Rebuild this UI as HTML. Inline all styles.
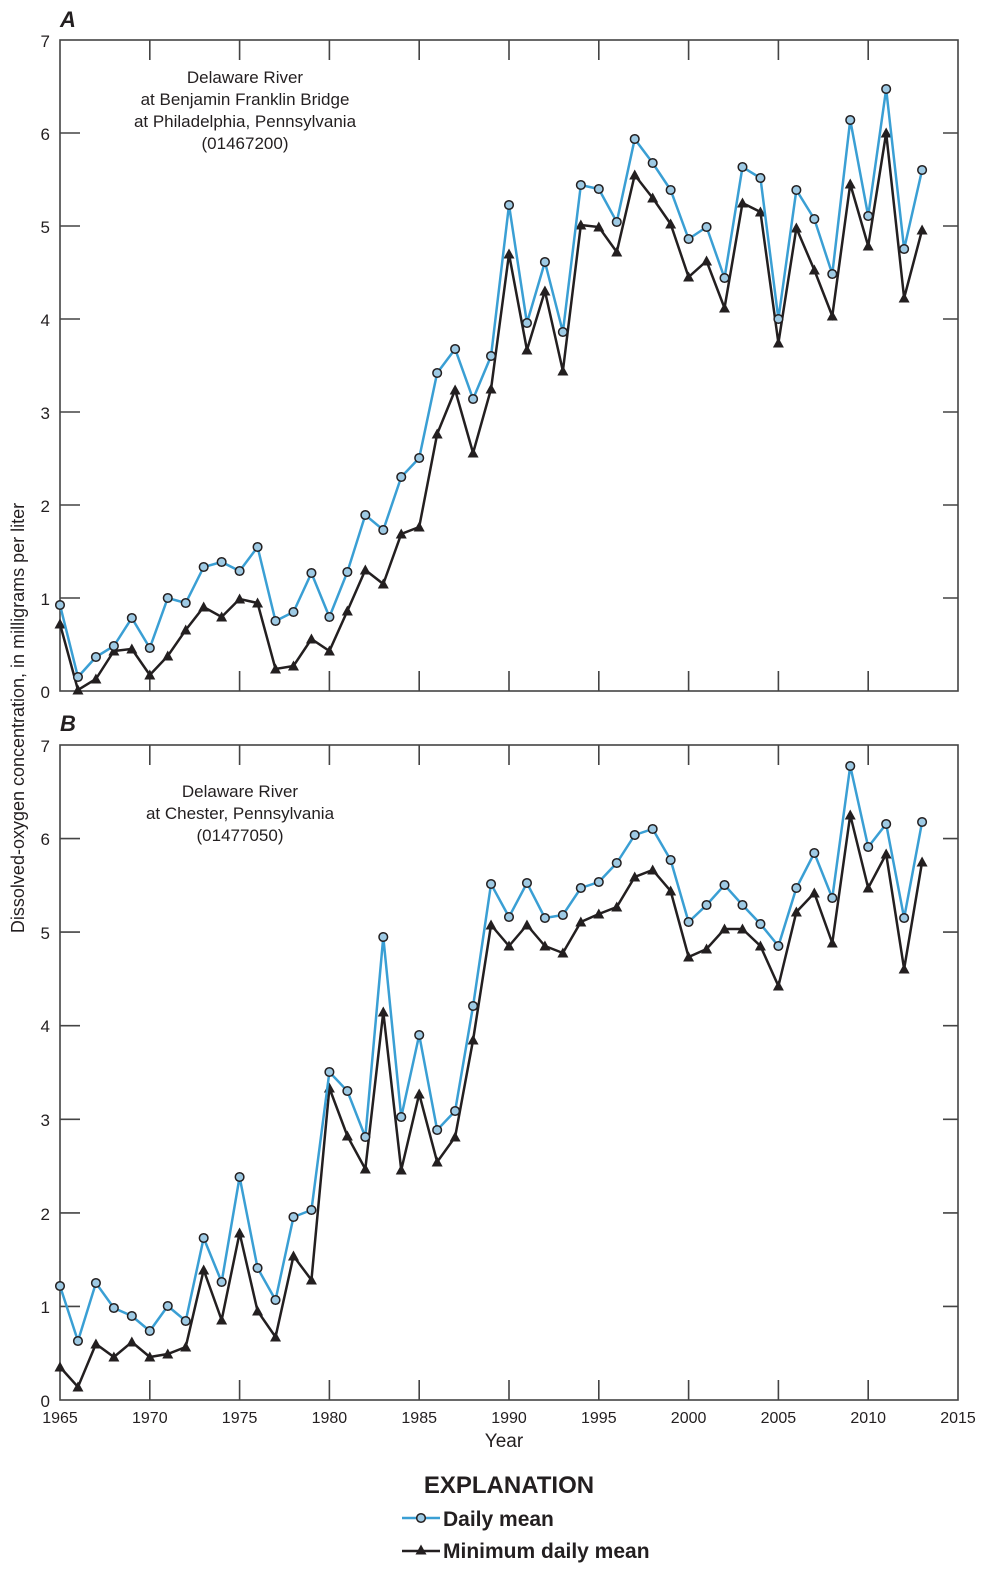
<!DOCTYPE html>
<html><head><meta charset="utf-8"><style>
body{margin:0;background:#fff}
svg{display:block}
text{font-family:"Liberation Sans Narrow","Liberation Sans",sans-serif;fill:#231f20}
</style></head><body>
<svg width="1008" height="1596" viewBox="0 0 1008 1596" xmlns="http://www.w3.org/2000/svg">
<defs>
<marker id="c" markerWidth="12" markerHeight="12" refX="6" refY="6" markerUnits="userSpaceOnUse"><circle cx="6" cy="6" r="4.3" fill="#9ecae4" stroke="#231f20" stroke-width="1.5"/></marker>
<marker id="t" markerWidth="14" markerHeight="14" refX="7" refY="7" markerUnits="userSpaceOnUse"><path d="M7 1.5 L12.5 11.5 L1.5 11.5 Z" fill="#231f20"/></marker>
</defs>
<g stroke="#444" stroke-width="1.6" fill="none">
<rect x="60" y="40" width="898" height="651"/>
<rect x="60" y="745" width="898" height="655"/>
<path d="M60 133H80M60 226H80M60 319H80M60 412H80M60 505H80M60 598H80
M958 133H943M958 226H943M958 319H943M958 412H943M958 505H943M958 598H943
M149.8 40V60M239.6 40V60M329.4 40V60M419.2 40V60M509 40V60M598.8 40V60M688.6 40V60M778.4 40V60M868.2 40V60
M149.8 691V671M239.6 691V671M329.4 691V671M419.2 691V671M509 691V671M598.8 691V671M688.6 691V671M778.4 691V671M868.2 691V671
M60 838.6H80M60 932.1H80M60 1025.7H80M60 1119.3H80M60 1212.9H80M60 1306.4H80
M958 838.6H943M958 932.1H943M958 1025.7H943M958 1119.3H943M958 1212.9H943M958 1306.4H943
M149.8 745V765M239.6 745V765M329.4 745V765M419.2 745V765M509 745V765M598.8 745V765M688.6 745V765M778.4 745V765M868.2 745V765
M149.8 1400V1380M239.6 1400V1380M329.4 1400V1380M419.2 1400V1380M509 1400V1380M598.8 1400V1380M688.6 1400V1380M778.4 1400V1380M868.2 1400V1380"/>
</g>
<g font-size="17" text-anchor="end">
<text x="50" y="47">7</text><text x="50" y="140">6</text><text x="50" y="233">5</text><text x="50" y="326">4</text><text x="50" y="419">3</text><text x="50" y="512">2</text><text x="50" y="605">1</text><text x="50" y="698">0</text>
<text x="50" y="752">7</text><text x="50" y="845">6</text><text x="50" y="939">5</text><text x="50" y="1032">4</text><text x="50" y="1126">3</text><text x="50" y="1220">2</text><text x="50" y="1313">1</text><text x="50" y="1407">0</text>
</g>
<g font-size="16" text-anchor="middle">
<text x="60" y="1423">1965</text><text x="149.8" y="1423">1970</text><text x="239.6" y="1423">1975</text><text x="329.4" y="1423">1980</text><text x="419.2" y="1423">1985</text><text x="509" y="1423">1990</text><text x="598.8" y="1423">1995</text><text x="688.6" y="1423">2000</text><text x="778.4" y="1423">2005</text><text x="868.2" y="1423">2010</text><text x="958" y="1423">2015</text>
<text x="504" y="1447" font-size="19">Year</text>
</g>
<text x="24" y="718" font-size="18" text-anchor="middle" transform="rotate(-90 24 718)">Dissolved-oxygen concentration, in milligrams per liter</text>
<text x="60" y="27" font-size="22" font-weight="bold" font-style="italic">A</text>
<text x="60" y="731" font-size="22" font-weight="bold" font-style="italic">B</text>
<g font-size="17" text-anchor="middle">
<text x="245" y="83">Delaware River</text><text x="245" y="105">at Benjamin Franklin Bridge</text><text x="245" y="127">at Philadelphia, Pennsylvania</text><text x="245" y="149">(01467200)</text>
<text x="240" y="797">Delaware River</text><text x="240" y="819">at Chester, Pennsylvania</text><text x="240" y="841">(01477050)</text>
</g>
<g fill="none" stroke-linejoin="miter">
<polyline stroke="#231f20" stroke-width="2.5" marker-start="url(#t)" marker-mid="url(#t)" marker-end="url(#t)" points="60,624 77.96,690 95.92,679 113.88,651 131.84,649 149.8,675 167.76,656 185.72,630 203.68,607 221.64,617 239.6,599 257.56,603 275.52,669 293.48,666 311.44,639 329.4,651 347.36,611 365.32,570 383.28,584 401.24,534 419.2,527 437.16,434 455.12,390 473.08,453 491.04,389 509,254 526.96,350 544.92,291 562.88,371 580.84,225 598.8,227 616.76,252 634.72,175 652.68,198 670.64,224 688.6,277 706.56,261 724.52,308 742.48,203 760.44,212 778.4,343 796.36,228 814.32,270 832.28,316 850.24,184 868.2,246 886.16,133 904.12,298 922.08,230"/>
<polyline stroke="#3a9fd4" stroke-width="2.5" marker-start="url(#c)" marker-mid="url(#c)" marker-end="url(#c)" points="60,605 77.96,677 95.92,657 113.88,646 131.84,618 149.8,648 167.76,598 185.72,603 203.68,567 221.64,562 239.6,571 257.56,547 275.52,621 293.48,612 311.44,573 329.4,617 347.36,572 365.32,515 383.28,530 401.24,477 419.2,458 437.16,373 455.12,349 473.08,399 491.04,356 509,205 526.96,323 544.92,262 562.88,332 580.84,185 598.8,189 616.76,222 634.72,139 652.68,163 670.64,190 688.6,239 706.56,227 724.52,278 742.48,167 760.44,178 778.4,319 796.36,190 814.32,219 832.28,274 850.24,120 868.2,216 886.16,89 904.12,249 922.08,170"/>
<polyline stroke="#231f20" stroke-width="2.5" marker-start="url(#t)" marker-mid="url(#t)" marker-end="url(#t)" points="60,1367 77.96,1387 95.92,1344 113.88,1357 131.84,1342 149.8,1357 167.76,1354 185.72,1347 203.68,1270 221.64,1320 239.6,1233 257.56,1311 275.52,1337 293.48,1256 311.44,1280 329.4,1088 347.36,1136 365.32,1169 383.28,1012 401.24,1170 419.2,1094 437.16,1162 455.12,1137 473.08,1040 491.04,925 509,946 526.96,925 544.92,946 562.88,953 580.84,922 598.8,914 616.76,907 634.72,877 652.68,870 670.64,891 688.6,957 706.56,949 724.52,929 742.48,929 760.44,946 778.4,986 796.36,912 814.32,893 832.28,943 850.24,815 868.2,888 886.16,854 904.12,969 922.08,862"/>
<polyline stroke="#3a9fd4" stroke-width="2.5" marker-start="url(#c)" marker-mid="url(#c)" marker-end="url(#c)" points="60,1286 77.96,1341 95.92,1283 113.88,1308 131.84,1316 149.8,1331 167.76,1306 185.72,1321 203.68,1238 221.64,1282 239.6,1177 257.56,1268 275.52,1300 293.48,1217 311.44,1210 329.4,1072 347.36,1091 365.32,1137 383.28,937 401.24,1117 419.2,1035 437.16,1130 455.12,1111 473.08,1006 491.04,884 509,917 526.96,883 544.92,918 562.88,915 580.84,888 598.8,882 616.76,863 634.72,835 652.68,829 670.64,860 688.6,922 706.56,905 724.52,885 742.48,905 760.44,924 778.4,946 796.36,888 814.32,853 832.28,898 850.24,766 868.2,847 886.16,824 904.12,918 922.08,822"/>
</g>
<text x="509" y="1493" font-size="24" font-weight="bold" text-anchor="middle">EXPLANATION</text>
<line x1="402" y1="1518" x2="440" y2="1518" stroke="#3a9fd4" stroke-width="2.5" marker-mid="url(#c)"/>
<circle cx="421" cy="1518" r="4.3" fill="#9ecae4" stroke="#231f20" stroke-width="1.5"/>
<line x1="402" y1="1551" x2="440" y2="1551" stroke="#231f20" stroke-width="2.5"/>
<path d="M421 1544.5 L426.5 1554.5 L415.5 1554.5 Z" fill="#231f20"/>
<text x="443" y="1526" font-size="21" font-weight="bold">Daily mean</text>
<text x="443" y="1558" font-size="21" font-weight="bold">Minimum daily mean</text>
</svg>
</body></html>
